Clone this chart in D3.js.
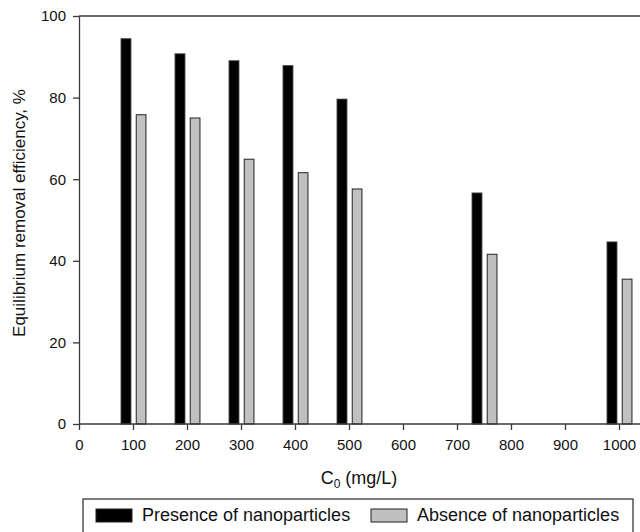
<!DOCTYPE html>
<html>
<head>
<meta charset="utf-8">
<script src="https://cdn.jsdelivr.net/npm/d3@7"></script>
<style>
    body { margin: 0; background: #fff; }
    svg { display: block; font-family: "Liberation Sans", Arial, sans-serif; }
</style>
</head>
<body>
<div id="chart"></div>
<script>
// Initial concentrations (mg/L) and removal efficiency (%)
var concentrations = [100, 200, 300, 400, 500, 750, 1000];
var presence = [94.4, 90.7, 89.0, 87.8, 79.6, 56.6, 44.6];
var absence = [75.8, 75.0, 64.9, 61.6, 57.6, 41.6, 35.5];
var xTicks = [0, 100, 200, 300, 400, 500, 600, 700, 800, 900, 1000];
var yTicks = [0, 20, 40, 60, 80, 100];
var seriesNames = ["Presence of nanoparticles", "Absence of nanoparticles"];

// Chart dimensions
var width = 640;
var height = 532;
var plotLeft = 79, plotTop = 16, plotBottom = 424;

var svg = d3.select("#chart")
    .append("svg")
    .attr("width", width)
    .attr("height", height);

var x = d3.scaleLinear().domain([0, 1000]).range([plotLeft, 619]);
var y = d3.scaleLinear().domain([0, 100]).range([plotBottom, plotTop]);

var color = d3.scaleOrdinal().domain(seriesNames).range(["#000000", "#c0c0c0"]);
var axisColor = "#3a3a3a";

// Bars: black bar left of the tick, gray bar right of it (offsets in data units)
var barW = 18;
var series = [
    { name: seriesNames[0], values: presence, offset: -22 },
    { name: seriesNames[1], values: absence, offset: 6 }
];

series.forEach(function (s) {
    svg.append("g")
        .selectAll("rect")
        .data(concentrations)
        .enter()
        .append("rect")
        .attr("x", (c) => x(c + s.offset))
        .attr("width", x(barW) - x(0))
        .attr("y", (c, i) => y(s.values[i]))
        .attr("height", (c, i) => y(0) - y(s.values[i]))
        .attr("fill", color(s.name))
        .attr("stroke", "#222")
        .attr("stroke-width", 1);
});

// Top frame line (right side runs off the picture)
svg.append("line")
    .attr("x1", plotLeft).attr("x2", width + 10)
    .attr("y1", plotTop).attr("y2", plotTop)
    .attr("stroke", axisColor).attr("stroke-width", 1.3);

// Axes
var yAxis = svg.append("g")
    .attr("transform", "translate(" + plotLeft + ",0)")
    .call(d3.axisLeft(y).tickValues(yTicks).tickSize(6).tickPadding(7).tickSizeOuter(0));

var xAxis = svg.append("g")
    .attr("transform", "translate(0," + plotBottom + ")")
    .call(d3.axisBottom(x).tickValues(xTicks).tickFormat(d3.format("d"))
        .tickSize(6).tickPadding(9).tickSizeOuter(0));

xAxis.select(".domain").attr("d", "M" + plotLeft + ",0H" + (width + 10));

[xAxis, yAxis].forEach(function (a) {
    a.selectAll(".domain, line").attr("stroke", axisColor).attr("stroke-width", 1.3);
    a.selectAll("text")
        .attr("font-family", "Liberation Sans, Arial, sans-serif")
        .attr("font-size", "15px")
        .attr("fill", "#111");
});

// Axis titles
svg.append("text")
    .attr("transform", "translate(25,213) rotate(-90)")
    .attr("text-anchor", "middle")
    .attr("font-size", "17px")
    .attr("fill", "#111")
    .text("Equilibrium removal efficiency, %");

var xTitle = svg.append("text")
    .attr("x", 359)
    .attr("y", 484)
    .attr("text-anchor", "middle")
    .attr("font-size", "18px")
    .attr("fill", "#111");
xTitle.append("tspan").text("C");
xTitle.append("tspan").attr("font-size", "12px").attr("dy", 4).text("0");
xTitle.append("tspan").attr("dy", -4).text(" (mg/L)");

// Legend
var legend = svg.append("g");

legend.append("rect")
    .attr("x", 83).attr("y", 499)
    .attr("width", 550).attr("height", 50)
    .attr("fill", "none")
    .attr("stroke", axisColor).attr("stroke-width", 1.3);

var legendX = [96, 371];
seriesNames.forEach(function (name, i) {
    legend.append("rect")
        .attr("x", legendX[i]).attr("y", 509)
        .attr("width", 36).attr("height", 13)
        .attr("fill", color(name))
        .attr("stroke", "#222").attr("stroke-width", 1);

    legend.append("text")
        .attr("x", legendX[i] + 46)
        .attr("y", 521)
        .attr("font-size", "18px")
        .attr("fill", "#111")
        .text(name);
});
</script>
</body>
</html>
